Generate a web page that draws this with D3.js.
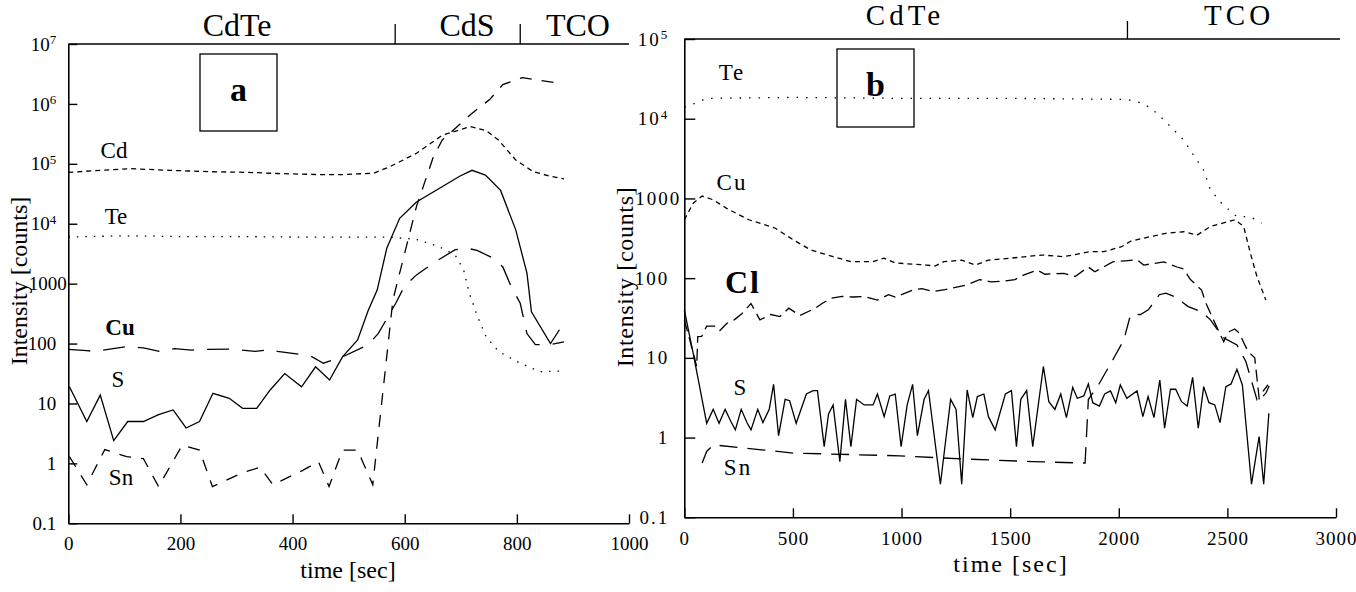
<!DOCTYPE html>
<html>
<head>
<meta charset="utf-8">
<script src="https://cdn.jsdelivr.net/npm/d3@7"></script>
<style>
  html, body { margin: 0; padding: 0; background: #fff; }
  svg { display: block; font-family: "Liberation Serif", "Times New Roman", serif; }
</style>
</head>
<body>
<svg id="chart" width="1356" height="592"></svg>
<script>
// ---------------- DATA (time [sec], intensity [counts]) ----------------
// Panel a
const aTimeTicks = [0, 200, 400, 600, 800, 1000];
const aYTicks = [0.1, 1, 10, 100, 1000, 1e4, 1e5, 1e6, 1e7];
const aYLabels = ["0.1", "1", "10", "100", "1000", "10^4", "10^5", "10^6", "10^7"];
const aRegionNames = ["CdTe", "CdS", "TCO"];
const aRegionCenters = [301, 711, 909];
const aRegionBounds = [583, 806];

const aCd = [[0,72000],[40,76000],[110,83000],[180,78000],[250,74000],[320,72000],[373,69000],[450,66000],[489,66000],[545,70000],[574,90000],[621,150000],[667,300000],[717,420000],[745,360000],[767,250000],[798,116000],[829,74000],[860,62000],[884,56000]];
const aTe = [[0,6000],[100,6300],[200,6100],[300,6100],[400,6000],[500,6000],[570,6000],[620,5500],[660,4200],[690,3000],[705,1700],[715,700],[730,280],[745,130],[768,73],[806,47],[841,34],[884,35]];
const aCu = [[0,80],[33,76],[48,74],[104,89],[134,85],[163,74],[189,82],[220,78],[250,80],[290,81],[333,74],[362,80],[373,74],[419,65],[435,60],[455,47],[489,60],[535,96],[553,148],[584,470],[599,890],[621,1400],[651,2200],[690,3700],[717,3800],[729,3600],[760,2600],[775,1900],[790,890],[806,470],[818,147],[833,96],[860,96],[884,107]];
const aS = [[2,19],[33,5],[57,13.8],[81,2.4],[106,5],[134,5],[161,6.5],[187,7.8],[210,3.9],[234,5],[258,14.8],[287,12.2],[311,8.3],[336,8.3],[360,16.8],[386,31.6],[416,19],[441,41],[466,24.6],[489,60],[516,115],[535,360],[551,790],[568,3900],[591,12300],[621,23000],[698,62000],[720,78000],[744,65000],[771,36000],[798,7900],[818,1500],[826,340],[860,100],[876,170]];
const aSn = [[2,1.3],[33,0.44],[65,1.7],[104,1.3],[134,1.2],[161,0.41],[203,2.0],[234,1.67],[257,0.41],[311,0.7],[342,0.86],[365,0.44],[419,0.77],[446,1.07],[465,0.41],[489,1.67],[516,1.67],[543,0.44],[579,540],[621,19500],[651,130000],[667,250000],[717,660000],[752,1200000],[775,2100000],[810,2750000],[837,2500000],[876,2200000]];

// Panel b
const bTimeTicks = [0, 500, 1000, 1500, 2000, 2500, 3000];
const bYTicks = [0.1, 1, 10, 100, 1000, 1e4, 1e5];
const bYLabels = ["0.1", "1", "10", "100", "1000", "10^4", "10^5"];
const bRegionNames = ["CdTe", "TCO"];
const bRegionCenters = [1016, 2554];
const bRegionBounds = [2040];

const bTe = [[0,14000],[62,16000],[100,18000],[500,18500],[1000,18000],[1500,18000],[2000,17500],[2035,17500],[2115,15500],[2176,11700],[2238,8000],[2299,5400],[2350,3300],[2391,2260],[2422,1280],[2473,870],[2544,590],[2605,590],[2657,490]];
const bCu = [[0,540],[41,870],[82,1070],[134,960],[195,750],[297,540],[419,423],[501,303],[583,225],[685,186],[767,161],[869,161],[919,178],[971,155],[1114,146],[1154,142],[1195,161],[1277,168],[1339,146],[1400,168],[1502,178],[1645,195],[1747,186],[1870,215],[1931,215],[2013,248],[2054,290],[2115,318],[2217,365],[2299,382],[2360,346],[2422,445],[2534,540],[2575,445],[2606,205],[2636,105],[2677,53]];
const bCl = [[0,30],[30,15],[57,7.8],[62,18.5],[80,18.6],[103,25],[144,25],[164,22],[195,27],[230,30],[266,36],[307,48],[348,30],[399,35],[440,33],[481,42],[532,34],[603,42],[634,48],[675,56],[726,59],[780,58],[828,59],[889,53],[940,62],[971,58],[1053,71],[1094,74],[1145,68],[1200,72],[1298,82],[1359,96],[1410,90],[1470,92],[1522,96],[1564,110],[1625,126],[1660,112],[1747,115],[1799,105],[1860,138],[1890,120],[1972,160],[2030,165],[2084,170],[2115,146],[2207,160],[2268,138],[2299,130],[2330,96],[2381,71],[2402,48],[2432,31.6],[2483,15.9],[2503,21],[2534,23],[2554,20.5],[2595,12],[2626,10],[2647,2.96],[2677,3.6],[2698,4.8]];
const bS = [[0,40],[41,11.4],[82,3.0],[103,1.51],[133,2.26],[160,1.51],[188,2.26],[215,1.58],[235,1.25],[262,2.26],[290,1.51],[307,1.25],[338,2.26],[362,1.54],[391,2.26],[411,4.66],[434,1.06],[464,3.02],[485,2.9],[515,1.51],[562,3.52],[593,3.88],[613,3.88],[644,0.77],[664,1.98],[685,2.57],[716,0.50],[742,3.02],[767,0.77],[793,3.02],[828,2.57],[869,2.57],[889,3.52],[920,1.83],[946,3.33],[971,3.52],[998,0.77],[1026,2.57],[1051,4.66],[1073,1.06],[1104,3.02],[1124,3.88],[1179,0.26],[1226,3.02],[1251,2.26],[1277,0.26],[1302,3.96],[1328,1.78],[1349,3.27],[1379,3.52],[1400,1.83],[1431,1.25],[1478,3.52],[1506,3.88],[1529,0.77],[1549,3.02],[1576,3.88],[1604,0.77],[1653,7.8],[1678,2.82],[1706,2.26],[1733,3.52],[1759,1.78],[1788,4.27],[1809,3.11],[1839,3.33],[1860,4.71],[1880,2.74],[1911,2.49],[1935,3.52],[1962,3.85],[1986,2.74],[2007,4.57],[2037,3.11],[2084,3.85],[2111,1.83],[2135,3.27],[2162,1.78],[2189,5.28],[2211,1.31],[2238,4.04],[2262,4.04],[2289,2.82],[2315,2.49],[2340,5.70],[2366,1.31],[2391,4.36],[2415,2.74],[2442,2.57],[2466,1.54],[2493,4.36],[2517,4.71],[2544,7.19],[2569,4.57],[2611,0.26],[2646,1.03],[2667,0.26],[2691,2.02]];
const bSn = [[82,0.48],[103,0.67],[134,0.81],[501,0.64],[992,0.59],[1277,0.54],[1600,0.5],[1829,0.48],[1845,0.48],[1860,3],[1911,4.8],[1972,9.4],[2023,16.7],[2054,34.5],[2100,35],[2136,40],[2187,62],[2217,65],[2260,58],[2320,44],[2380,38],[2422,30],[2480,18],[2544,14.5],[2585,9],[2636,3],[2687,4.6]];

// ---------------- DRAWING ----------------
const svg = d3.select("#chart");
const FONT = '"Liberation Serif", "Times New Roman", serif';

function drawPanel(cfg) {
  const x = d3.scaleLinear().domain(cfg.xDomain).range(cfg.xRange);
  const y = d3.scaleLog().domain(cfg.yDomain).range(cfg.yRange);
  const g = svg.append("g");
  const ls = cfg.letterSpacing;

  // x axis (ticks inward)
  const xa = g.append("g").attr("transform", `translate(0,${cfg.yRange[0]})`)
    .call(d3.axisBottom(x).tickValues(cfg.xTicks).tickSizeInner(-9).tickSizeOuter(0)
      .tickPadding(cfg.xPad).tickFormat(d3.format("d")));
  xa.selectAll("text").attr("font-size", 19).attr("font-family", FONT).attr("fill", "#000")
    .style("letter-spacing", cfg.xLs + "px");
  // y axis (ticks inward)
  const ya = g.append("g").attr("transform", `translate(${cfg.xRange[0]},0)`)
    .call(d3.axisLeft(y).tickValues(cfg.yTicks).tickSizeInner(-cfg.yTick).tickSizeOuter(0)
      .tickPadding(cfg.yPad).tickFormat((d, i) => cfg.yLabels[i]));
  ya.selectAll("text").attr("font-size", 19).attr("font-family", FONT).attr("fill", "#000")
    .style("letter-spacing", ls + "px")
    .each(function() {
      const t = d3.select(this);
      const s = t.text();
      if (s === "1000") t.attr("x", cfg.thousandX);
      if (s.includes("^")) {
        const [b, e] = s.split("^");
        t.text("");
        t.append("tspan").text(b);
        t.append("tspan").attr("dy", "-0.5em").attr("font-size", 13).text(e);
      }
    });
  [xa, ya].forEach(a => {
    a.selectAll("path.domain").attr("stroke", "#000").attr("stroke-width", 1.6);
    a.selectAll(".tick line").attr("stroke", "#000").attr("stroke-width", 1.4);
  });

  // top band line with region separators
  g.append("line").attr("x1", cfg.xRange[0]).attr("x2", cfg.topEnd)
    .attr("y1", cfg.yRange[1]).attr("y2", cfg.yRange[1]).attr("stroke", "#000").attr("stroke-width", 1.4);
  cfg.bounds.forEach(t => {
    g.append("line").attr("x1", x(t)).attr("x2", x(t)).attr("y1", cfg.yRange[1])
      .attr("y2", cfg.yRange[1] - cfg.boundLen).attr("stroke", "#000").attr("stroke-width", 1.3);
  });
  cfg.regionNames.forEach((n, i) => {
    g.append("text").attr("x", x(cfg.regionCenters[i])).attr("y", cfg.regionBase)
      .attr("text-anchor", "middle").attr("font-size", cfg.regionSize).attr("font-family", FONT)
      .style("letter-spacing", cfg.regionLs + "px").text(n);
  });

  // series
  const line = d3.line().x(d => x(d[0])).y(d => y(d[1]));
  cfg.series.forEach(s => {
    g.append("path").datum(s.data).attr("d", line).attr("fill", "none")
      .attr("stroke", "#000").attr("stroke-width", 1.3)
      .attr("stroke-dasharray", s.dash || null);
  });

  // inline labels
  cfg.labels.forEach(l => {
    g.append("text").attr("x", l.x).attr("y", l.y).attr("text-anchor", "middle")
      .attr("font-size", l.size || 23).attr("font-weight", l.bold ? "bold" : "normal")
      .attr("font-family", FONT).style("letter-spacing", (l.ls || 0) + "px").text(l.text);
  });

  // panel letter box
  const b = cfg.box;
  g.append("rect").attr("x", b.x).attr("y", b.y).attr("width", b.w).attr("height", b.h)
    .attr("fill", "none").attr("stroke", "#000").attr("stroke-width", 1.3);
  g.append("text").attr("x", b.x + b.w / 2).attr("y", b.base).attr("text-anchor", "middle")
    .attr("font-size", 34).attr("font-weight", "bold").attr("font-family", FONT).text(b.letter);

  // axis titles
  g.append("text").attr("x", cfg.xTitle[0]).attr("y", cfg.xTitle[1]).attr("text-anchor", "middle")
    .attr("font-size", 24).attr("font-family", FONT).style("letter-spacing", cfg.titleLs + "px")
    .text("time [sec]");
  g.append("text").attr("transform", `translate(${cfg.yTitle[0]},${cfg.yTitle[1]}) rotate(-90)`)
    .attr("text-anchor", "middle").attr("font-size", 24).attr("font-family", FONT)
    .style("letter-spacing", (cfg.titleLs / 3) + "px").text("Intensity [counts]");
}

drawPanel({
  xDomain: [0, 1000], xRange: [68.3, 629], yDomain: [0.1, 1e7], yRange: [523.3, 44],
  xTicks: aTimeTicks, yTicks: aYTicks, yLabels: aYLabels,
  xPad: 13, yPad: 12, yTick: 9, thousandX: -1.5, letterSpacing: 0, xLs: 0,
  topEnd: 629, bounds: aRegionBounds, boundLen: 20,
  regionNames: aRegionNames, regionCenters: aRegionCenters, regionBase: 36, regionSize: 32, regionLs: 0,
  series: [
    { data: aCd, dash: "5,4" },
    { data: aTe, dash: "1.5,7" },
    { data: aCu, dash: "22,13" },
    { data: aS, dash: null },
    { data: aSn, dash: "12,10" }
  ],
  labels: [
    { text: "Cd", x: 114, y: 158 },
    { text: "Te", x: 116, y: 224 },
    { text: "Cu", x: 120, y: 335, bold: true },
    { text: "S", x: 118, y: 387 },
    { text: "Sn", x: 121, y: 485 }
  ],
  box: { x: 200, y: 54, w: 77, h: 77, base: 101, letter: "a" },
  xTitle: [348, 578], yTitle: [27, 281], titleLs: 0
});

drawPanel({
  xDomain: [0, 3000], xRange: [684.3, 1336], yDomain: [0.1, 1e5], yRange: [517.3, 39],
  xTicks: bTimeTicks, yTicks: bYTicks, yLabels: bYLabels,
  xPad: 14, yPad: 15, yTick: 11, thousandX: -3, letterSpacing: 2, xLs: 1,
  topEnd: 1340, bounds: bRegionBounds, boundLen: 18,
  regionNames: bRegionNames, regionCenters: bRegionCenters, regionBase: 25, regionSize: 29, regionLs: 4,
  series: [
    { data: bTe, dash: "1.5,8" },
    { data: bCu, dash: "5,4" },
    { data: bCl, dash: "12,6" },
    { data: bS, dash: null },
    { data: bSn, dash: "18,10" }
  ],
  labels: [
    { text: "Te", x: 732, y: 80, ls: 2 },
    { text: "Cu", x: 732, y: 190, ls: 2 },
    { text: "Cl", x: 743, y: 293, bold: true, size: 32, ls: 2 },
    { text: "S", x: 740, y: 395 },
    { text: "Sn", x: 738, y: 475, ls: 2 }
  ],
  box: { x: 837, y: 49, w: 77, h: 78, base: 96, letter: "b" },
  xTitle: [1011, 572], yTitle: [633, 277], titleLs: 2
});
</script>
</body>
</html>
